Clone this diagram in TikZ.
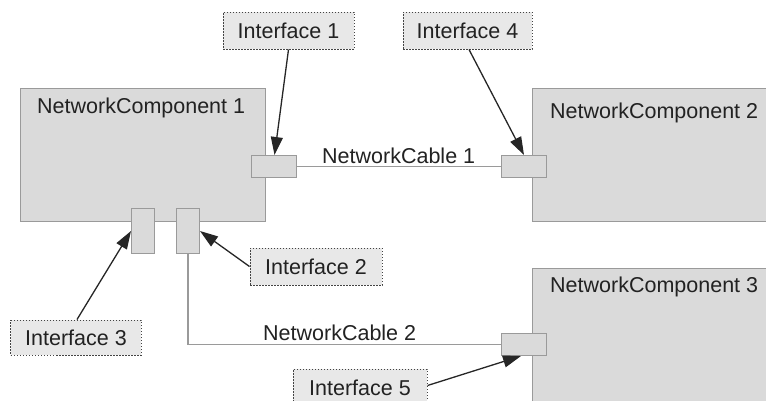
\documentclass[tikz,border=0pt]{standalone}
\usepackage{fontspec}
\setmainfont{Liberation Sans}
\usetikzlibrary{arrows.meta}
\definecolor{compfill}{HTML}{DADADA}
\definecolor{compline}{HTML}{9A9A9A}
\definecolor{labfill}{HTML}{E8E8E8}
\definecolor{labline}{HTML}{444444}
\definecolor{txt}{HTML}{222222}
\begin{document}
\begin{tikzpicture}[x=1bp,y=-1bp,
  font=\fontsize{21.5bp}{24bp}\selectfont, text=txt,
  comp/.style={draw=compline, fill=compfill, line width=1.2bp, rectangle, inner sep=0pt, anchor=north west},
  port/.style={draw=compline, fill=compfill, line width=1bp, rectangle, inner sep=0pt, anchor=north west},
  iface/.style={draw=labline, fill=labfill, dash pattern=on 1.5bp off 1.5bp, line width=1bp, rectangle, inner sep=0pt, minimum height=37bp},
  cable/.style={draw=compline, line width=1.2bp},
  pointer/.style={draw=black!85, line width=1.3bp, -{Triangle[length=18bp,width=12bp]}},
  complabel/.style={anchor=base west, inner sep=0pt}]
\useasboundingbox (0,0) rectangle (766,400);
% components
\node[comp, minimum width=245bp, minimum height=133bp,
  label={[complabel, xshift=17bp, yshift=-25bp]north west:NetworkComponent 1}] (nc1) at (20,88) {};
\node[comp, minimum width=245bp, minimum height=133bp,
  label={[complabel, xshift=18bp, yshift=-30bp]north west:NetworkComponent 2}] (nc2) at (532,88) {};
\node[comp, minimum width=245bp, minimum height=150bp,
  label={[complabel, xshift=18bp, yshift=-24bp]north west:NetworkComponent 3}] (nc3) at (532,268) {};
% ports
\node[port, minimum width=45bp, minimum height=22bp] (p1) at (251,155) {};
\node[port, minimum width=45bp, minimum height=22bp] (p4) at (501,155) {};
\node[port, minimum width=23bp, minimum height=45bp] (p3) at (131,208) {};
\node[port, minimum width=23bp, minimum height=45bp] (p2) at (176,208) {};
\node[port, minimum width=45bp, minimum height=22bp] (p5) at (501,333) {};
% cables
\draw[cable] (p1.east) -- (p4.west);
\draw[cable] (p2.south) |- (p5.west);
\node[anchor=base west, inner sep=0pt] (cab1) at (322,163) {NetworkCable 1};
\node[anchor=base west, inner sep=0pt] (cab2) at (263,340) {NetworkCable 2};
% interface labels
\node[iface, minimum width=131bp] (i1) at (288.5,30.5) {Interface 1};
\node[iface, minimum width=129bp] (i4) at (467.5,30.5) {Interface 4};
\node[iface, minimum width=132bp] (i2) at (316,266.5) {Interface 2};
\node[iface, minimum width=130bp, minimum height=35bp] (i3) at (76,337.5) {Interface 3};
\node[iface, minimum width=134bp] (i5) at (360,387.5) {Interface 5};
% pointers
\draw[pointer] (i1.south) -- ([xshift=0.5bp]p1.north);
\draw[pointer] ([xshift=1.5bp]i4.south) -- (p4.north);
\draw[pointer] (i2.west) -- (p2.east);
\draw[pointer] ([xshift=1bp]i3.north) -- (p3.west);
\draw[pointer] ([yshift=2bp]i5.east) -- ([xshift=-3bp]p5.south);
\end{tikzpicture}
\end{document}
